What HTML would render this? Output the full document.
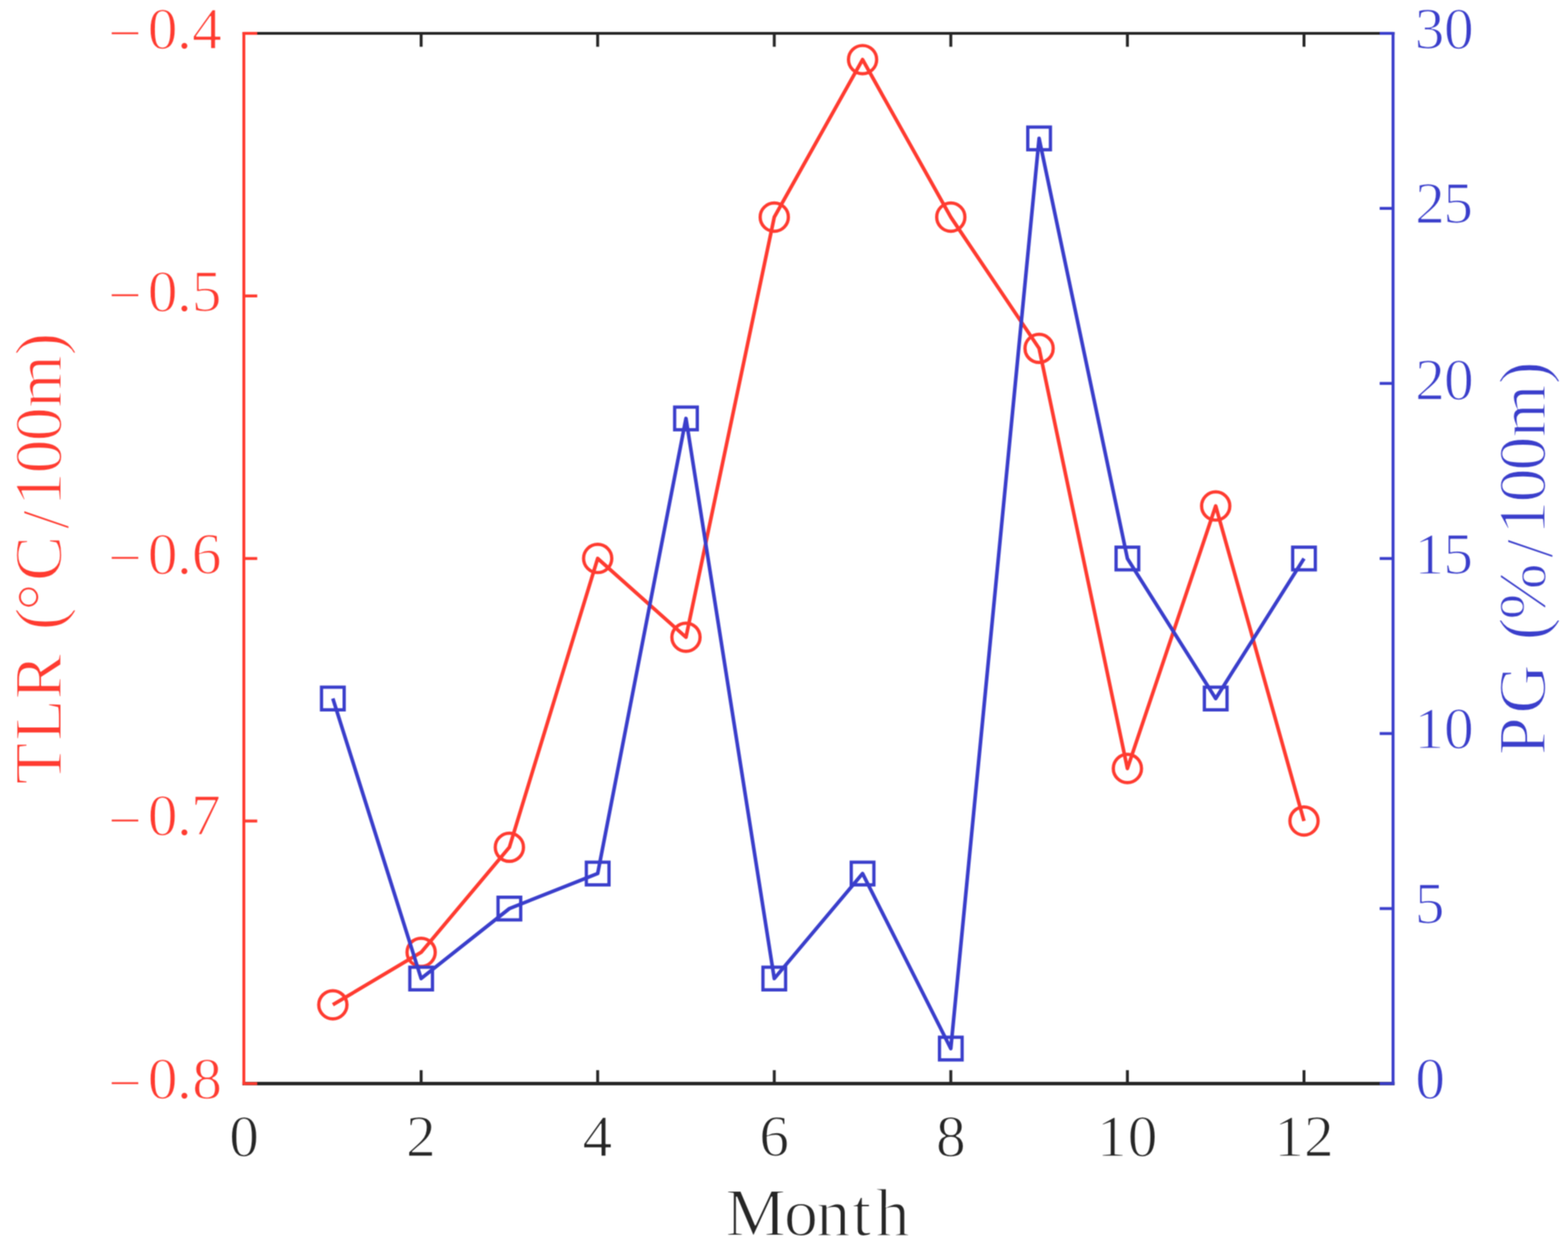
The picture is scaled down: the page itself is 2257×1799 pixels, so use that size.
<!DOCTYPE html>
<html lang="en">
<head>
<meta charset="utf-8">
<title>TLR and PG by Month</title>
<style>
html,body{margin:0;padding:0;background:#fff;}
body{width:2257px;height:1799px;overflow:hidden;}
svg{display:block;}
</style>
</head>
<body>
<svg width="2257" height="1799" viewBox="0 0 2257 1799" font-family="'Liberation Serif', 'DejaVu Serif', serif">
<rect width="2257" height="1799" fill="#fff"/>
<defs><filter id="soft" filterUnits="userSpaceOnUse" x="0" y="0" width="2257" height="1799" color-interpolation-filters="sRGB"><feConvolveMatrix order="3" kernelMatrix="1 2 1 2 4 2 1 2 1" divisor="16" edgeMode="duplicate" preserveAlpha="true"/></filter></defs>
<g filter="url(#soft)">
<rect width="2257" height="1799" fill="#fff"/>
<g stroke="#262626" stroke-width="4.2" fill="none">
<line x1="348.9" y1="1559.5" x2="2007.3" y2="1559.5" stroke-width="4.8"/>
<line x1="348.9" y1="48.0" x2="2007.3" y2="48.0"/>
<line x1="606.2" y1="1559.5" x2="606.2" y2="1540.2"/>
<line x1="606.2" y1="48.0" x2="606.2" y2="67.3"/>
<line x1="860.3" y1="1559.5" x2="860.3" y2="1540.2"/>
<line x1="860.3" y1="48.0" x2="860.3" y2="67.3"/>
<line x1="1114.5" y1="1559.5" x2="1114.5" y2="1540.2"/>
<line x1="1114.5" y1="48.0" x2="1114.5" y2="67.3"/>
<line x1="1368.6" y1="1559.5" x2="1368.6" y2="1540.2"/>
<line x1="1368.6" y1="48.0" x2="1368.6" y2="67.3"/>
<line x1="1622.8" y1="1559.5" x2="1622.8" y2="1540.2"/>
<line x1="1622.8" y1="48.0" x2="1622.8" y2="67.3"/>
<line x1="1877.0" y1="1559.5" x2="1877.0" y2="1540.2"/>
<line x1="1877.0" y1="48.0" x2="1877.0" y2="67.3"/>
</g>
<g stroke="#ff3b30" stroke-width="4.2" fill="none">
<line x1="351.0" y1="45.9" x2="351.0" y2="1561.6"/>
<line x1="351.0" y1="48.0" x2="370.3" y2="48.0"/>
<line x1="351.0" y1="425.9" x2="370.3" y2="425.9"/>
<line x1="351.0" y1="803.8" x2="370.3" y2="803.8"/>
<line x1="351.0" y1="1181.6" x2="370.3" y2="1181.6"/>
<line x1="351.0" y1="1559.5" x2="370.3" y2="1559.5"/>
</g>
<g stroke="#3a3ecb" stroke-width="4.2" fill="none">
<line x1="2005.2" y1="45.9" x2="2005.2" y2="1561.6"/>
<line x1="2005.2" y1="1559.5" x2="1985.9" y2="1559.5"/>
<line x1="2005.2" y1="1307.6" x2="1985.9" y2="1307.6"/>
<line x1="2005.2" y1="1055.7" x2="1985.9" y2="1055.7"/>
<line x1="2005.2" y1="803.8" x2="1985.9" y2="803.8"/>
<line x1="2005.2" y1="551.8" x2="1985.9" y2="551.8"/>
<line x1="2005.2" y1="299.9" x2="1985.9" y2="299.9"/>
<line x1="2005.2" y1="48.0" x2="1985.9" y2="48.0"/>
</g>
<g stroke="#ff3b30" fill="none">
<g stroke-width="4.7">
<circle cx="479.1" cy="1446.1" r="20.3"/>
<circle cx="606.2" cy="1370.6" r="20.3"/>
<circle cx="733.2" cy="1219.4" r="20.3"/>
<circle cx="860.3" cy="803.7" r="20.3"/>
<circle cx="987.4" cy="917.1" r="20.3"/>
<circle cx="1114.5" cy="312.5" r="20.3"/>
<circle cx="1241.6" cy="85.8" r="20.3"/>
<circle cx="1368.6" cy="312.5" r="20.3"/>
<circle cx="1495.7" cy="501.4" r="20.3"/>
<circle cx="1622.8" cy="1106.0" r="20.3"/>
<circle cx="1749.9" cy="728.2" r="20.3"/>
<circle cx="1877.0" cy="1181.6" r="20.3"/>
</g>
<polyline stroke-width="5.2" stroke-linejoin="round" points="479.1,1446.1 606.2,1370.6 733.2,1219.4 860.3,803.7 987.4,917.1 1114.5,312.5 1241.6,85.8 1368.6,312.5 1495.7,501.4 1622.8,1106.0 1749.9,728.2 1877.0,1181.6"/>
</g>
<g stroke="#3a3ecb" fill="none">
<g stroke-width="4.7">
<rect x="462.8" y="989.0" width="32.6" height="32.6"/>
<rect x="589.9" y="1392.0" width="32.6" height="32.6"/>
<rect x="716.9" y="1291.3" width="32.6" height="32.6"/>
<rect x="844.0" y="1240.9" width="32.6" height="32.6"/>
<rect x="971.1" y="585.9" width="32.6" height="32.6"/>
<rect x="1098.2" y="1392.0" width="32.6" height="32.6"/>
<rect x="1225.3" y="1240.9" width="32.6" height="32.6"/>
<rect x="1352.3" y="1492.8" width="32.6" height="32.6"/>
<rect x="1479.4" y="182.9" width="32.6" height="32.6"/>
<rect x="1606.5" y="787.5" width="32.6" height="32.6"/>
<rect x="1733.6" y="989.0" width="32.6" height="32.6"/>
<rect x="1860.7" y="787.5" width="32.6" height="32.6"/>
</g>
<polyline stroke-width="5.2" stroke-linejoin="round" points="479.1,1005.3 606.2,1408.3 733.2,1307.6 860.3,1257.2 987.4,602.2 1114.5,1408.3 1241.6,1257.2 1368.6,1509.1 1495.7,199.2 1622.8,803.8 1749.9,1005.3 1877.0,803.8"/>
</g>
<g font-size="85.5" fill="#262626">
<text stroke="#fff" stroke-width="1.5" stroke-linejoin="round" x="330.0" y="1664.3">0</text>
<text stroke="#fff" stroke-width="1.5" stroke-linejoin="round" x="584.4" y="1664.3">2</text>
<text stroke="#fff" stroke-width="1.5" stroke-linejoin="round" x="838.6" y="1664.3">4</text>
<text stroke="#fff" stroke-width="1.5" stroke-linejoin="round" x="1093.0" y="1664.3">6</text>
<text stroke="#fff" stroke-width="1.5" stroke-linejoin="round" x="1347.3" y="1664.3">8</text>
<text stroke="#fff" stroke-width="1.5" stroke-linejoin="round" x="1579.1 1623.3" y="1664.3">10</text>
<text stroke="#fff" stroke-width="1.5" stroke-linejoin="round" x="1834.3 1876.9" y="1664.3">12</text>
</g>
<g font-size="85.5" fill="#ff3b30">
<text stroke="#fff" stroke-width="1.5" stroke-linejoin="round" x="155.7 212.7 254.8 276.5" y="70.2" dy="5.3 -5.3 0 0">−0.4</text>
<text stroke="#fff" stroke-width="1.5" stroke-linejoin="round" x="155.7 212.7 254.8 275.9" y="448.0" dy="5.4 -5.4 0 0">−0.5</text>
<text stroke="#fff" stroke-width="1.5" stroke-linejoin="round" x="155.7 212.7 254.8 276.1" y="825.8" dy="5.5 -5.5 0 0">−0.6</text>
<text stroke="#fff" stroke-width="1.5" stroke-linejoin="round" x="155.7 212.7 254.8 275.1" y="1202.4" dy="6.7 -6.7 0 0">−0.7</text>
<text stroke="#fff" stroke-width="1.5" stroke-linejoin="round" x="155.7 212.7 254.8 276.7" y="1581.2" dy="5.8 -5.8 0 0">−0.8</text>
</g>
<g font-size="85.5" fill="#3a3ecb">
<text stroke="#fff" stroke-width="1.5" stroke-linejoin="round" x="2037.2" y="1581.1">0</text>
<text stroke="#fff" stroke-width="1.5" stroke-linejoin="round" x="2036.4" y="1329.1">5</text>
<text stroke="#fff" stroke-width="1.5" stroke-linejoin="round" x="2036.1 2078.4" y="1076.6">10</text>
<text stroke="#fff" stroke-width="1.5" stroke-linejoin="round" x="2036.1 2077.6" y="825.9">15</text>
<text stroke="#fff" stroke-width="1.5" stroke-linejoin="round" x="2037.1 2078.4" y="574.7">20</text>
<text stroke="#fff" stroke-width="1.5" stroke-linejoin="round" x="2037.1 2077.6" y="321.3">25</text>
<text stroke="#fff" stroke-width="1.5" stroke-linejoin="round" x="2036.2 2078.4" y="70.0">30</text>
</g>
<text stroke="#fff" stroke-linejoin="round" x="1044.3 1128.4 1174.9 1226.7 1260.4" y="1777.7" dy="0 0 0 0 0" font-size="97.7" fill="#262626" stroke-width="1.9" xml:space="preserve">Month</text>
<text stroke="#fff" stroke-linejoin="round" transform="translate(88.2,0) rotate(-90)" x="-1128.7 -1066.3 -1006.6 -941.4 -906.9 -878.8 -836.3 -761.6 -728.4 -681.4 -634.9 -587.1 -511.4" y="0.0" dy="0 0 0 0 1 2 -3 10 -10 0 0 0 1" font-size="97.7" fill="#ff3b30" stroke-width="1.9" xml:space="preserve">TLR (°C/100m)</text>
<text stroke="#fff" stroke-linejoin="round" transform="translate(2223.8,0) rotate(-90)" x="-1086.8 -1027.0 -956.4 -921.4 -892.0 -802.9 -769.5 -722.9 -677.3 -629.4 -552.7" y="0.0" dy="0 0 0 1 -1 10 -10 0 0 0 1" font-size="97.7" fill="#3a3ecb" stroke-width="1.9" xml:space="preserve">PG (%/100m)</text>
</g>
</svg>
</body>
</html>
